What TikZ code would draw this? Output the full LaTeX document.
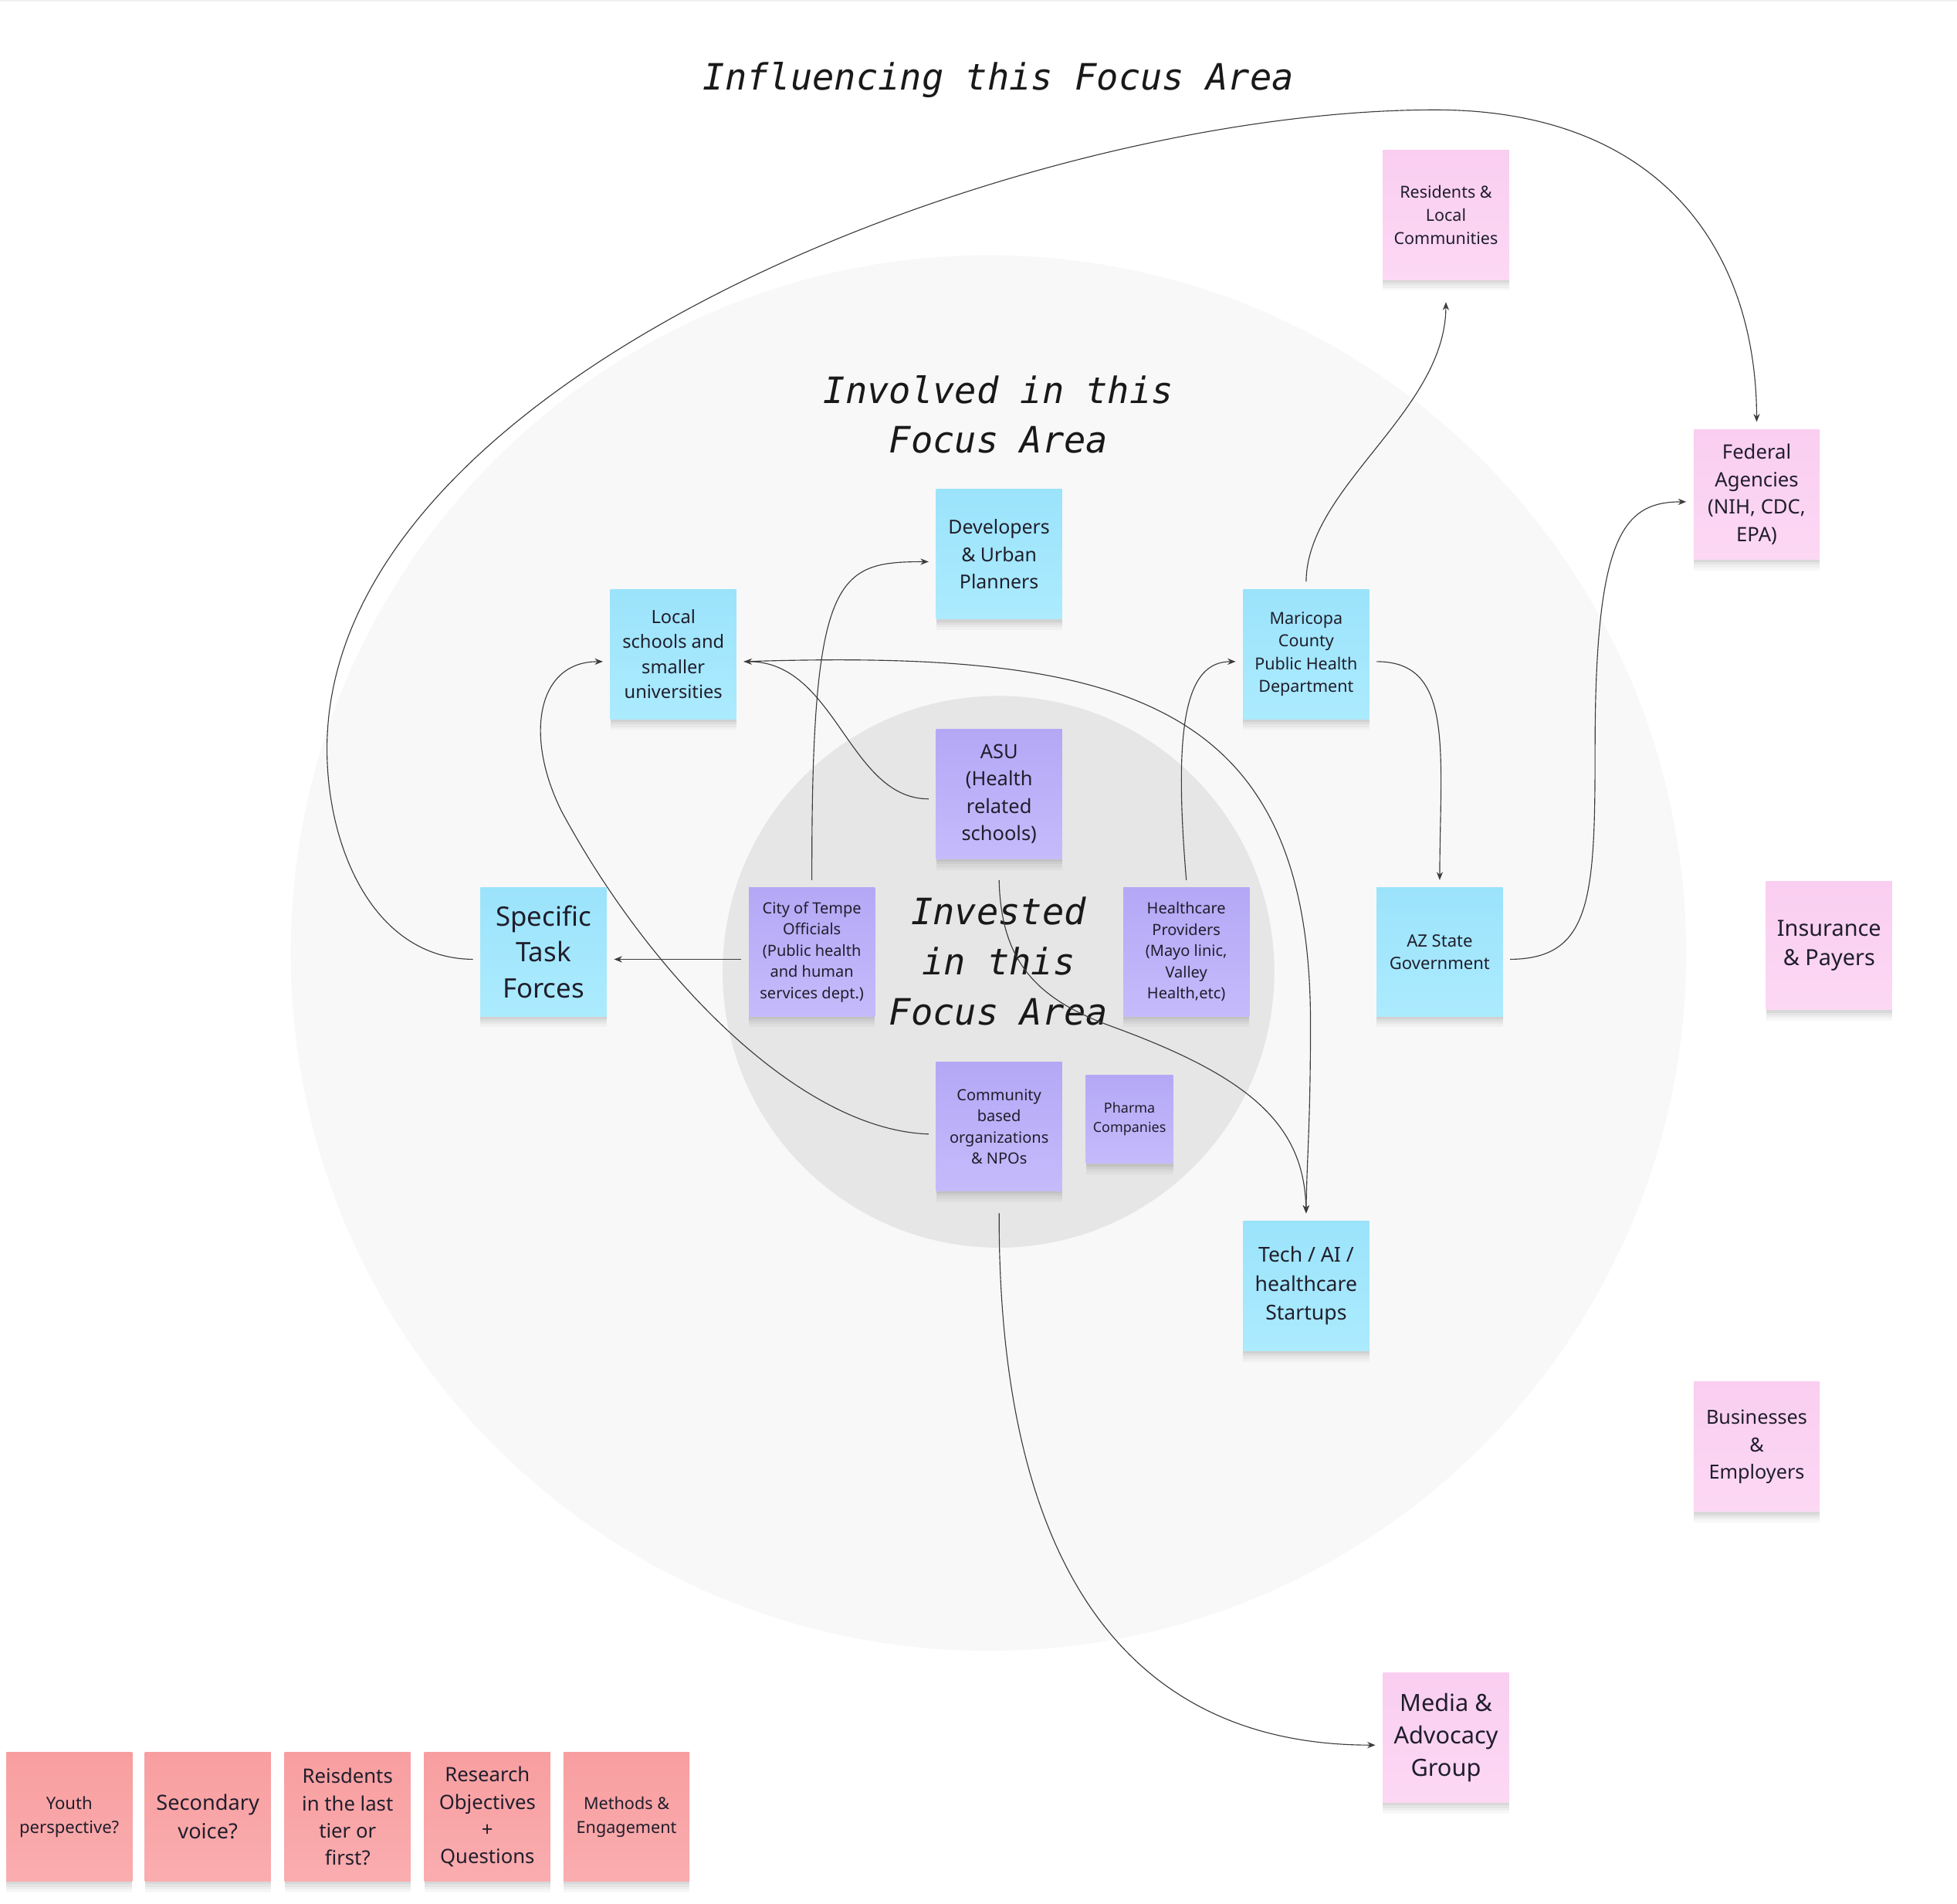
\documentclass[tikz,border=0pt]{standalone}
\usepackage{fontspec}
\setmainfont{Noto Sans}
\newfontfamily\monoit{DejaVu Sans Mono Oblique}
\usetikzlibrary{arrows.meta,calc}
\definecolor{bluetop}{RGB}{155,227,251}
\definecolor{bluebot}{RGB}{172,235,254}
\definecolor{purtop}{RGB}{180,168,246}
\definecolor{purbot}{RGB}{197,187,251}
\definecolor{pinktop}{RGB}{250,206,240}
\definecolor{pinkbot}{RGB}{252,216,244}
\definecolor{redtop}{RGB}{248,158,160}
\definecolor{redbot}{RGB}{250,173,175}
\definecolor{outerc}{RGB}{248,248,248}
\definecolor{innerc}{RGB}{230,230,230}
\definecolor{notetext}{RGB}{32,30,44}
\definecolor{linec}{RGB}{60,60,60}
\definecolor{titlec}{RGB}{25,25,25}
\tikzset{
  note/.style={rectangle, inner sep=0pt, outer sep=0pt,
    minimum width=25.25mm, minimum height=26mm, align=center, text=notetext,
    preaction={fill=black, opacity=0.03, transform canvas={yshift=-2.2mm}},
    preaction={fill=black, opacity=0.035, transform canvas={yshift=-1.6mm}},
    preaction={fill=black, opacity=0.04, transform canvas={yshift=-1.1mm}},
    preaction={fill=black, opacity=0.05, transform canvas={yshift=-0.6mm}}},
  bluenote/.style={note, top color=bluetop, bottom color=bluebot},
  purnote/.style={note, top color=purtop, bottom color=purbot},
  pinknote/.style={note, top color=pinktop, bottom color=pinkbot},
  rednote/.style={note, top color=redtop, bottom color=redbot, minimum height=25.75mm},
  areatitle/.style={align=center, text=titlec, inner sep=0pt,
    font=\monoit\fontsize{20.7}{28.5}\selectfont},
  conn/.style={draw=linec, line width=0.5pt},
  arr/.style={conn, -{Stealth[length=4.6pt,width=3.6pt]}},
}
\begin{document}
\begin{tikzpicture}[x=0.25mm, y=-0.25mm]
\useasboundingbox (0,0) rectangle (1568,1525);
\fill[white] (0,0) rectangle (1568,1525);
\fill[gray!12] (0,0) rectangle (1568,1.5);

% circles
\fill[outerc] (792,763.5) circle (559);
\fill[innerc] (800,778.5) circle (221);

% titles
\node[areatitle] (tinfl) at (800,64) {Influencing this Focus Area};
\node[areatitle] (tinv) at (800,332) {Involved in this\\Focus Area};
\node[areatitle] (tinvest) at (800,770) {Invested\\in this\\Focus Area};

% blue notes
\node[bluenote, font=\fontsize{10.95}{15.6}\selectfont] (dev) at (800.5,444) {Developers\\\& Urban\\Planners};
\node[bluenote, font=\fontsize{10.4}{14.2}\selectfont] (local) at (539.5,524) {Local\\schools and\\smaller\\universities};
\node[bluenote, font=\fontsize{9.46}{13}\selectfont] (mari) at (1046.5,524) {Maricopa\\County\\Public Health\\Department};
\node[bluenote, minimum height=25.75mm, font=\fontsize{15.3}{20.6}\selectfont] (stf) at (435.5,762.5) {Specific\\Task\\Forces};
\node[bluenote, minimum height=25.75mm, font=\fontsize{9.7}{12.8}\selectfont] (az) at (1153.5,762.5) {AZ State\\Government};
\node[bluenote, font=\fontsize{11.7}{16.4}\selectfont] (tech) at (1046.5,1030) {Tech / AI /\\healthcare\\Startups};

% purple notes
\node[purnote, font=\fontsize{11.2}{15.6}\selectfont] (asu) at (800.5,636) {ASU\\(Health\\related\\schools)};
\node[purnote, minimum height=25.75mm, font=\fontsize{8.8}{12.1}\selectfont] (city) at (650.5,762.5) {City of Tempe\\Officials\\(Public health\\and human\\services dept.)};
\node[purnote, minimum height=25.75mm, font=\fontsize{8.8}{12.1}\selectfont] (hcp) at (950.5,762.5) {Healthcare\\Providers\\(Mayo linic,\\Valley\\Health,etc)};
\node[purnote, minimum height=25.75mm, font=\fontsize{8.8}{12.1}\selectfont] (cbo) at (800.5,902.5) {Community\\based\\organizations\\\& NPOs};
\node[purnote, minimum width=17.5mm, minimum height=17.75mm, font=\fontsize{7.9}{10.7}\selectfont] (pharma) at (905,896.5) {Pharma\\Companies};

% pink notes
\node[pinknote, font=\fontsize{9.46}{13.2}\selectfont] (res) at (1158.5,172) {Residents \&\\Local\\Communities};
\node[pinknote, font=\fontsize{11.3}{15.6}\selectfont] (fed) at (1407.5,396) {Federal\\Agencies\\(NIH, CDC,\\EPA)};
\node[pinknote, minimum height=25.75mm, font=\fontsize{12.7}{17.1}\selectfont] (ins) at (1465.5,757.5) {Insurance\\\& Payers};
\node[pinknote, font=\fontsize{11.1}{15.6}\selectfont] (bus) at (1407.5,1159) {Businesses\\\&\\Employers};
\node[pinknote, font=\fontsize{13.5}{18.5}\selectfont] (media) at (1158.5,1392) {Media \&\\Advocacy\\Group};

% red notes
\node[rednote, font=\fontsize{9.7}{13.5}\selectfont] (youth) at (55.5,1455.5) {Youth\\perspective?};
\node[rednote, font=\fontsize{11.95}{16.4}\selectfont] (second) at (166.5,1455.5) {Secondary\\voice?};
\node[rednote, font=\fontsize{11.3}{15.6}\selectfont] (reis) at (278.5,1455.5) {Reisdents\\in the last\\tier or\\first?};
\node[rednote, font=\fontsize{11.3}{15.6}\selectfont] (resobj) at (390.5,1455.5) {Research\\Objectives\\+\\Questions};
\node[rednote, font=\fontsize{9.5}{13.5}\selectfont] (meth) at (502,1455.5) {Methods \&\\Engagement};

% connectors
\draw[arr] ($(stf.west)+(-6,6)$) .. controls (300,768) and (262,680) .. (262,600)
  .. controls (262,300) and (820,88) .. (1150,88)
  .. controls (1330,88) and (1407,200) .. ($(fed.north)+(0,-6)$);
\draw[arr] ($(city.west)+(-6,6)$) -- ($(stf.east)+(6,6)$);
\draw[arr] ($(city.north)+(0,-6)$) .. controls (650,460) and (670,450) .. ($(dev.west)+(-6,6)$);
\draw[arr] ($(asu.west)+(-6,4)$) .. controls (680,640) and (670,530) .. ($(local.east)+(6,6)$);
\draw[arr] ($(local.east)+(6,6)$) .. controls (900,520) and (1050,560) .. (1050,820)
  .. controls (1050,900) and (1047,930) .. ($(tech.north)+(0,-6)$);
\draw[arr] ($(asu.south)+(0,17)$) .. controls (802,770) and (830,800) .. (890,822)
  .. controls (1000,862) and (1045,900) .. ($(tech.north)+(0,-6)$);
\draw[arr] ($(hcp.north)+(0,-6)$) .. controls (940,580) and (950,530) .. ($(mari.west)+(-6,6)$);
\draw[arr] ($(mari.north)+(0,-6)$) .. controls (1047,390) and (1158,330) .. ($(res.south)+(0,18)$);
\draw[arr] ($(mari.east)+(6,6)$) .. controls (1165,530) and (1154,600) .. ($(az.north)+(0,-6)$);
\draw[arr] ($(az.east)+(6,6)$) .. controls (1275,768) and (1278,720) .. (1278,600)
  .. controls (1278,430) and (1300,402) .. ($(fed.west)+(-6,6)$);
\draw[arr] ($(cbo.west)+(-6,6)$) .. controls (640,905) and (520,780) .. (450,650)
  .. controls (420,590) and (430,530) .. ($(local.west)+(-6,6)$);
\draw[arr] ($(cbo.south)+(0,18)$) .. controls (800,1250) and (900,1398) .. ($(media.west)+(-6,6)$);
\end{tikzpicture}
\end{document}
